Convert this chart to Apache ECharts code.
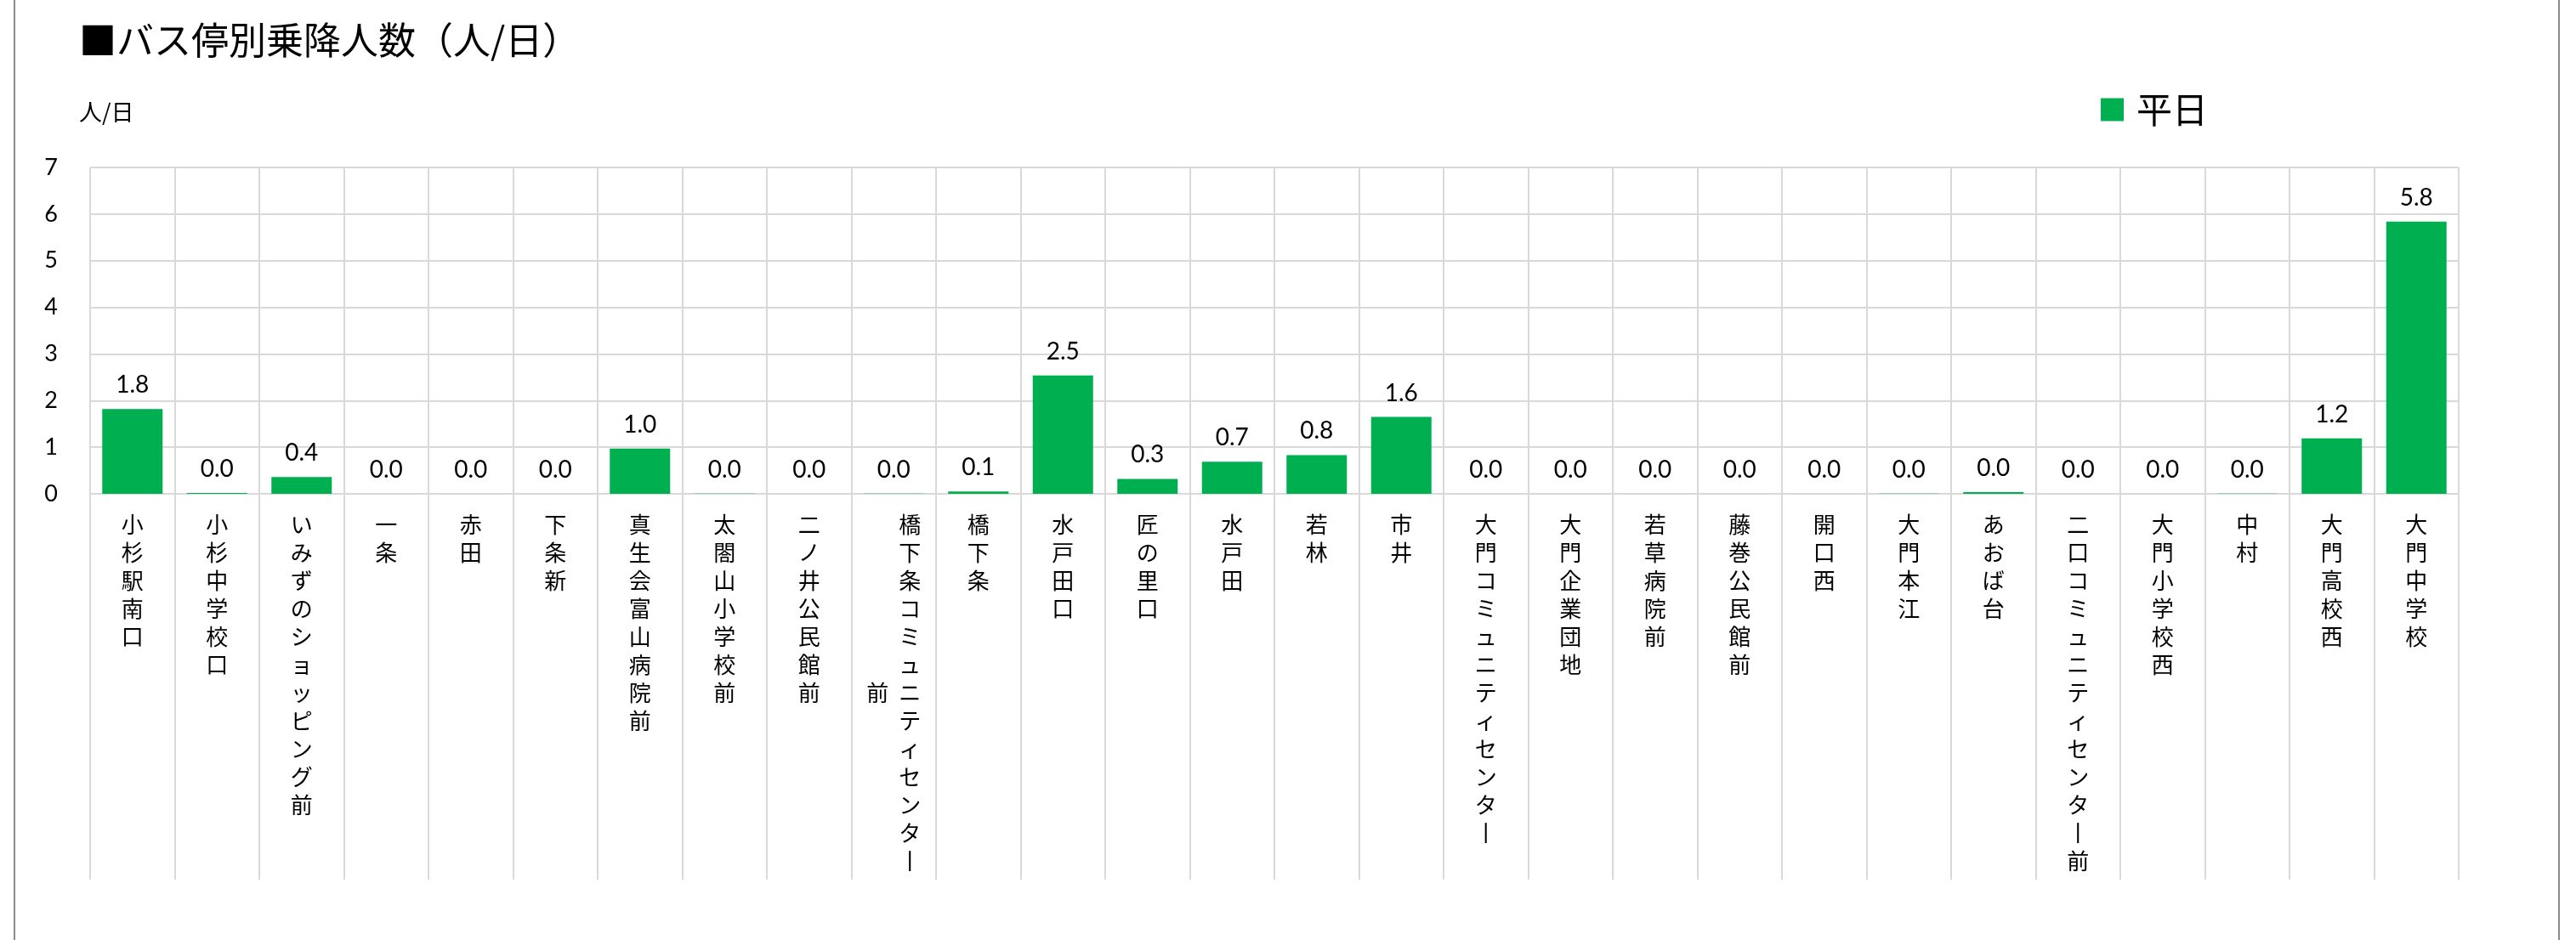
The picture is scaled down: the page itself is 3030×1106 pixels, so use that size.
<!DOCTYPE html>
<html>
<head>
<meta charset="utf-8">
<script src="https://cdn.jsdelivr.net/npm/echarts@6.0.0/dist/echarts.min.js"></script>
<style>
  html, body { margin: 0; padding: 0; background: #fff; }
  #frame {
    position: absolute; left: 16px; top: 0; width: 2995px; height: 1106px;
    border-left: 2px solid #8c8c8c; border-right: 2px solid #8c8c8c;
    box-sizing: border-box;
  }
  #chart { position: absolute; left: 0; top: 0; width: 3030px; height: 1106px; }
</style>
</head>
<body>
<div id="frame"></div>
<div id="chart"></div>
<script>
// bus stops, in the order shown
const stops = [
    '小杉駅南口', '小杉中学校口', 'いみずのショッピング前', '一条', '赤田', '下条新',
    '真生会富山病院前', '太閤山小学校前', '二ノ井公民館前', '橋下条コミュニティセンター前',
    '橋下条', '水戸田口', '匠の里口', '水戸田', '若林', '市井', '大門コミュニティセンター',
    '大門企業団地', '若草病院前', '藤巻公民館前', '開口西', '大門本江', 'あおば台',
    '二口コミュニティセンター前', '大門小学校西', '中村', '大門高校西', '大門中学校'
];

// 平日 passengers per day
const weekday = [
    1.82, 0.02, 0.36, 0, 0, 0,
    0.97, 0.005, 0, 0.005,
    0.05, 2.54, 0.32, 0.69, 0.83, 1.65, 0,
    0, 0, 0, 0, 0.005, 0.035,
    0, 0, 0.005, 1.19, 5.84
];

const yTicks = [0, 1, 2, 3, 4, 5, 6, 7];

const CJK = '"Noto Sans CJK JP", "Noto Sans", sans-serif';
const NUM = 'Lato, "Open Sans", sans-serif';
const COL_MAX = 13;

// stack characters vertically, wrapping into a second column on the left
function verticalLabel(name) {
    let chars = Array.from(name).map(c => c === 'ー' ? '丨' : c);
    let main = chars.slice(0, COL_MAX);
    let rest = chars.slice(COL_MAX);
    if (!rest.length) {
        return main.map(c => '{c|' + c + '}').join('\n');
    }
    let off = Math.floor((main.length - rest.length) / 2);
    return main.map((c, i) => '{c|' + (rest[i - off] || '　') + '}{c|' + c + '}').join('\n');
}

let chart = echarts.init(document.getElementById('chart'));

let option = {
    animation: false,
    backgroundColor: 'transparent',
    title: [
        {
            text: '■バス停別乗降人数（人/日）',
            left: 88, top: 20,
            textStyle: { fontFamily: CJK, fontSize: 44, fontWeight: 'normal', color: '#000' }
        },
        {
            text: '人/日',
            left: 88, top: 113,
            textStyle: { fontFamily: CJK, fontSize: 27, fontWeight: 'normal', color: '#000' }
        }
    ],
    legend: {
        data: ['平日'],
        left: 2466, top: 103,
        itemWidth: 27, itemHeight: 27,
        icon: 'rect',
        textStyle: { fontFamily: CJK, fontSize: 42, color: '#000', padding: [0, 0, 0, 10] }
    },
    grid: { left: 106, right: 138, top: 197, bottom: 525, containLabel: false },
    xAxis: {
        type: 'category',
        data: stops,
        axisLine: { show: true, lineStyle: { color: '#d9d9d9', width: 2 } },
        axisTick: { show: true, interval: 0, length: 454, lineStyle: { color: '#d9d9d9', width: 2 } },
        splitLine: { show: true, interval: 0, lineStyle: { color: '#d9d9d9', width: 2 } },
        axisLabel: {
            interval: 0,
            margin: 20,
            verticalAlign: 'top',
            formatter: (v) => verticalLabel(v),
            rich: {
                c: { fontFamily: CJK, fontSize: 26, lineHeight: 33, width: 38, align: 'center', color: '#000' }
            }
        }
    },
    yAxis: {
        type: 'value',
        min: yTicks[0], max: yTicks[yTicks.length - 1], interval: 1,
        axisLine: { show: false },
        axisTick: { show: false },
        splitLine: { show: true, lineStyle: { color: '#d9d9d9', width: 2 } },
        axisLabel: { margin: 38, fontFamily: NUM, fontSize: 27, color: '#000' }
    },
    series: [
        {
            name: '平日',
            type: 'bar',
            data: weekday,
            barWidth: 71,
            itemStyle: { color: '#00b050' },
            label: {
                show: true,
                position: 'top',
                distance: 14,
                fontFamily: NUM,
                fontSize: 28,
                color: '#000',
                formatter: (p) => p.value.toFixed(1)
            }
        }
    ]
};

chart.setOption(option);
</script>
</body>
</html>
